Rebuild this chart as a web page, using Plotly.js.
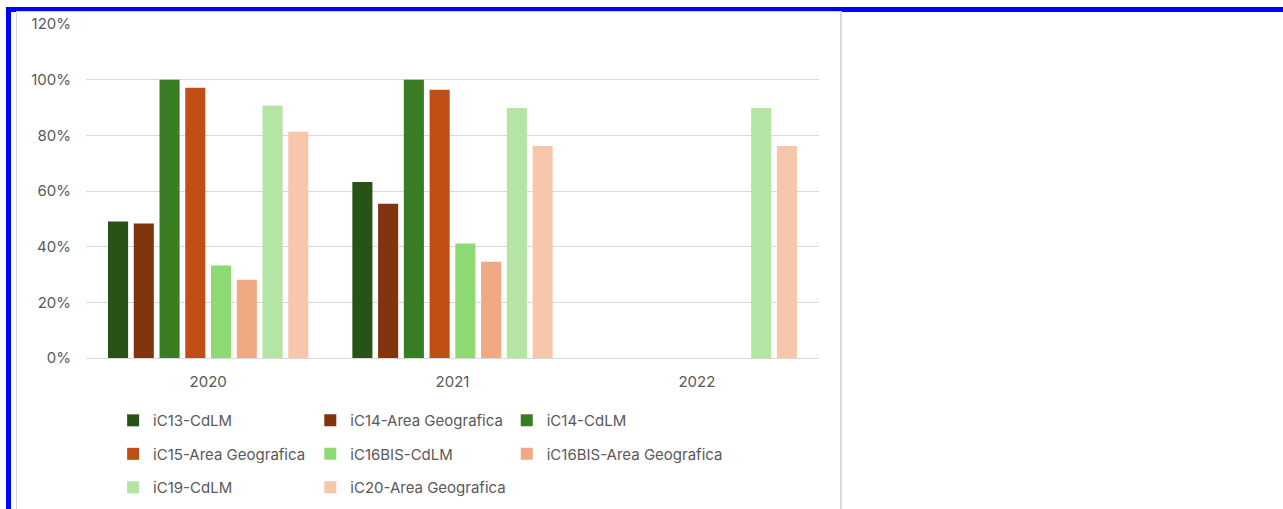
<!DOCTYPE html>
<html>
<head>
<meta charset="utf-8">
<script src="https://cdn.plot.ly/plotly-3.0.1.min.js"></script>
<style>
  html, body { margin:0; padding:0; background:#ffffff; width:1283px; height:509px; overflow:hidden; }
  #frameTop { position:absolute; left:6px; top:7px; width:1277px; height:5px; background:#0000ff; }
  #frameLeft { position:absolute; left:6px; top:7px; width:5px; height:502px; background:#0000ff; }
  #panel { position:absolute; left:16px; top:11px; width:823px; height:520px; border:1px solid #d9d9d9; border-right:2px solid #d9d9d9; background:#ffffff; }
  #chart { position:absolute; left:0; top:0; width:1283px; height:509px; }
</style>
</head>
<body>
<div id="frameTop"></div>
<div id="frameLeft"></div>
<div id="panel"></div>
<div id="chart"></div>
<script>
// ---- data ----
const years = ['2020', '2021', '2022'];
const seriesNames = [
  'iC13-CdLM', 'iC14-Area Geografica', 'iC14-CdLM',
  'iC15-Area Geografica', 'iC16BIS-CdLM', 'iC16BIS-Area Geografica',
  'iC19-CdLM', 'iC20-Area Geografica'
];
const ic13_cdlm      = [0.490, 0.632, null];
const ic14_area      = [0.483, 0.554, null];
const ic14_cdlm      = [1.000, 1.000, null];
const ic15_area      = [0.971, 0.964, null];
const ic16bis_cdlm   = [0.332, 0.411, null];
const ic16bis_area   = [0.281, 0.346, null];
const ic19_cdlm      = [0.907, 0.898, 0.898];
const ic20_area      = [0.813, 0.762, 0.762];
const yTickVals = [0, 0.2, 0.4, 0.6, 0.8, 1.0, 1.2];

// ---- styles ----
const seriesValues = [ic13_cdlm, ic14_area, ic14_cdlm, ic15_area, ic16bis_cdlm, ic16bis_area, ic19_cdlm, ic20_area];
const colors = ['#275317', '#80350E', '#3A7C22', '#C04F15', '#8ED973', '#F1A983', '#B4E5A2', '#F7C7AC'];
const legendIds = ['legend', 'legend2', 'legend3', 'legend', 'legend2', 'legend3', 'legend', 'legend2'];

const FONT = 'Inter, "Liberation Sans", Arial, sans-serif';
const GREY = '#595959';

const traces = seriesNames.map((name, i) => ({
  type: 'bar',
  name: name,
  x: years,
  y: seriesValues[i],
  marker: { color: colors[i], line: { width: 0 } },
  legend: legendIds[i],
  legendgroup: 'g' + i,
  hoverinfo: 'x+y+name'
}));

const legendBase = {
  orientation: 'v',
  yref: 'paper', xref: 'paper',
  y: -0.138, yanchor: 'top', xanchor: 'left',
  bgcolor: 'rgba(0,0,0,0)',
  font: { family: FONT, size: 15, color: GREY },
  traceorder: 'grouped',
  tracegroupgap: 11,
  itemwidth: 30,
  itemclick: false, itemdoubleclick: false
};

const layout = {
  width: 1283, height: 509,
  margin: { l: 86, r: 464, t: 24, b: 151, autoexpand: false },
  paper_bgcolor: 'rgba(0,0,0,0)',
  plot_bgcolor: 'rgba(0,0,0,0)',
  barmode: 'group',
  bargap: 0.157,
  bargroupgap: 0.22,
  font: { family: FONT, size: 15, color: GREY },
  showlegend: true,
  xaxis: {
    type: 'category',
    categoryorder: 'array', categoryarray: years,
    showgrid: false, zeroline: false, showline: false,
    ticks: '', ticklabelstandoff: 13,
    tickfont: { family: FONT, size: 15, color: GREY },
    fixedrange: true
  },
  yaxis: {
    range: [0, 1.2],
    tickvals: yTickVals,
    tickformat: '.0%',
    showgrid: true, gridcolor: '#d9d9d9', gridwidth: 1,
    zeroline: true, zerolinecolor: '#d9d9d9', zerolinewidth: 1,
    showline: false, ticks: '', ticklabelstandoff: 14,
    tickfont: { family: FONT, size: 15, color: GREY },
    fixedrange: true
  },
  legend:  Object.assign({}, legendBase, { x: 0.037 }),
  legend2: Object.assign({}, legendBase, { x: 0.306 }),
  legend3: Object.assign({}, legendBase, { x: 0.574 })
};

Plotly.newPlot('chart', traces, layout, { displayModeBar: false, staticPlot: false });
</script>
</body>
</html>
